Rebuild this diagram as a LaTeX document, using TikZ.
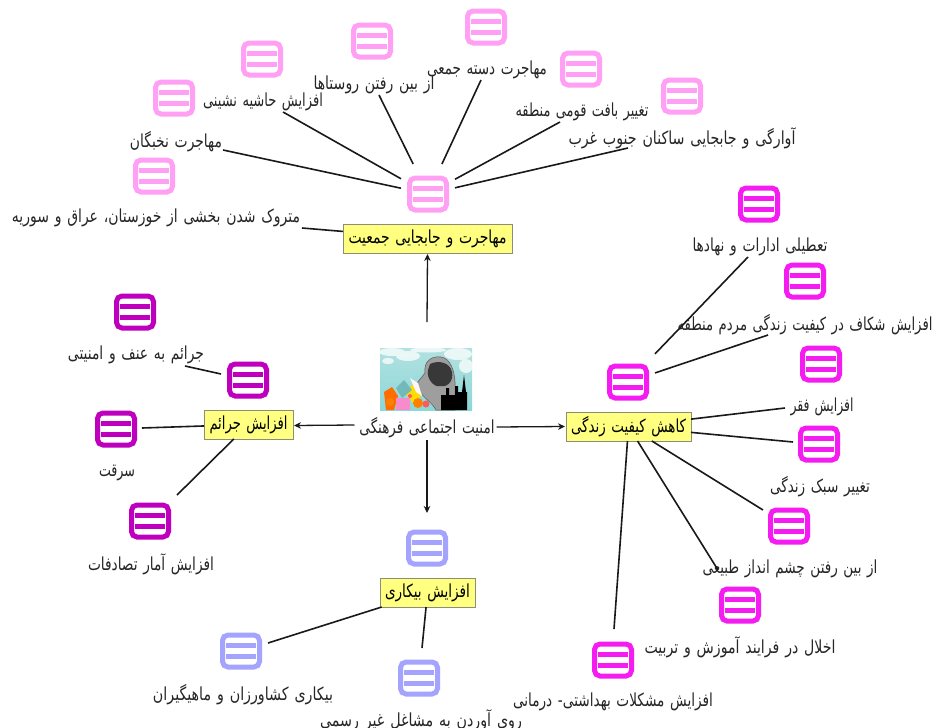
\documentclass[tikz,border=0pt]{standalone}
\usepackage{fontspec}
\TeXXeTstate=1
\newfontfamily\arabicfont[Script=Arabic,WordSpace=1.3]{DejaVu Sans}
\usetikzlibrary{arrows.meta,calc}
\definecolor{migr}{HTML}{FFA0F5}
\definecolor{life}{HTML}{F41CF0}
\definecolor{crime}{HTML}{BE00BE}
\definecolor{jobs}{HTML}{A4A4FF}
\definecolor{boxfill}{HTML}{FFFF80}
\definecolor{boxline}{HTML}{8C8C78}
\tikzset{
  lab/.style={inner sep=0pt,outer sep=0pt,text=black!85,font=\arabicfont\fontsize{18}{20}\selectfont},
  theme/.style={rectangle,draw=boxline,line width=1pt,fill=boxfill,inner sep=0pt,outer sep=0pt,text=black,font=\arabicfont\fontsize{18}{20}\selectfont},
  hit/.style={rectangle,draw=none,inner sep=0pt,outer sep=0pt,minimum width=54pt,minimum height=60pt},
  frame/.style={line width=5pt,rounded corners=5.5pt,fill=white},
  link/.style={line width=1.6pt,black!90},
  flow/.style={line width=1.3pt,black!90,-{Stealth[length=7pt,width=6.5pt]}}
}
\newcommand{\ic}[4]{%
  \node[hit] (#1) at (#3,#4) {};
  \draw[frame,draw=#2] ($(#1)+(-18.5,-16)$) rectangle ($(#1)+(18.5,16)$);
  \fill[#2] ($(#1)+(-15,-7.7)$) rectangle ($(#1)+(15,-2.7)$);
  \fill[#2] ($(#1)+(-15,3)$) rectangle ($(#1)+(15,8)$);
}
\newcommand{\lb}[5]{\node[lab] (#1) at (#2,#3) {\resizebox{#4pt}{\height}{#5}};}
\newcommand{\bx}[7]{\node[theme,minimum width=#4pt,minimum height=#5pt] (#1) at (#2,#3) {\resizebox{#6pt}{\height}{#7}};}
\begin{document}
\begin{tikzpicture}[x=1pt,y=-1pt]
\useasboundingbox (0,0) rectangle (937,728);
\clip (0,0) rectangle (937,728);
\fill[white] (0,0) rectangle (937,728);

% central picture
\shade[top color=cyan!22!teal!30!white,bottom color=cyan!30!teal!45!white] (380,348) rectangle (472,410);
\fill[white,opacity=.75] (392,352) ellipse (13 and 4) (408,356) ellipse (12 and 5) (388,361) ellipse (6 and 3) (428,350) ellipse (18 and 2.5) (458,354) ellipse (14 and 6) (466,366) ellipse (7 and 7);
\fill[black!38,draw=black!65,line width=.5pt] (436,410) .. controls (432,402) and (423,398) .. (419,390) -- (417,383) -- (425,373) .. controls (424,364) and (428,358) .. (436,357) .. controls (448,355) and (454,366) .. (455,382) -- (455,410) -- cycle;
\fill[black!78] (430,364) .. controls (438,360) and (450,362) .. (452,372) .. controls (454,382) and (446,388) .. (440,386) .. controls (434,388) and (426,378) .. (428,370) -- cycle;
\fill[black] (441,410) -- (441,395) -- (446,395) -- (446,388) -- (449,388) -- (449,395) -- (455,395) -- (455,386) -- (458,386) -- (458,392) -- (462,392) -- (464,375) -- (466,392) -- (467,392) -- (467,410) -- cycle;
\fill[orange!85!red] (384,392) -- (392,387) -- (398,396) -- (394,410) -- (386,410) -- cycle;
\fill[yellow!80!orange] (404,392) -- (414,384) -- (422,394) -- (414,404) -- cycle;
\fill[teal!55] (396,388) -- (404,380) -- (412,390) -- (402,398) -- cycle;
\fill[white!85!pink] (410,378) -- (418,383) -- (422,396) -- (416,392) -- cycle;
\fill[magenta!45] (396,398) rectangle (410,410);
\fill[orange] (390,402) circle (4) (418,403) circle (5);
\fill[red!65] (426,404) circle (3.5) (410,396) circle (2);

% centre
\lb{root}{427}{428}{135}{\beginR امنیت اجتماعی فرهنگی\endR}
\coordinate (rootTop) at (427,322);

% theme boxes
\bx{tM}{427.5}{238.5}{169}{29}{158}{\beginR مهاجرت و جابجایی جمعیت\endR}
\bx{tL}{628.5}{426.5}{125}{29}{115}{\beginR کاهش کیفیت زندگی\endR}
\bx{tC}{248.5}{424.5}{89}{29}{78}{\beginR افزایش جرائم\endR}
\bx{tJ}{427.5}{592.5}{95}{29}{85}{\beginR افزایش بیکاری\endR}

% icons
\ic{mh}{migr}{428}{194}
\ic{m1}{migr}{154}{176}
\ic{m2}{migr}{174}{98}
\ic{m3}{migr}{262}{59}
\ic{m4}{migr}{372}{41}
\ic{m5}{migr}{486}{27}
\ic{m6}{migr}{581}{69}
\ic{m7}{migr}{682}{96}
\ic{lh}{life}{628}{382}
\ic{l1}{life}{759}{204}
\ic{l2}{life}{805}{281}
\ic{l3}{life}{821}{364}
\ic{l4}{life}{819}{444}
\ic{l5}{life}{789}{526}
\ic{l6}{life}{740}{605}
\ic{l7}{life}{613}{660}
\ic{c1}{crime}{135}{312}
\ic{c2}{crime}{248}{380}
\ic{c3}{crime}{116}{429}
\ic{c4}{crime}{150}{521}
\ic{j1}{jobs}{427}{548}
\ic{j2}{jobs}{241}{651}
\ic{j3}{jobs}{419}{678}

% labels
\lb{a1}{156}{218}{288}{\beginR متروک شدن بخشی از خوزستان، عراق و سوریه\endR}
\lb{a2}{176}{142}{92}{\beginR مهاجرت نخبگان\endR}
\lb{a3}{263}{102}{120}{\beginR افزایش حاشیه نشینی\endR}
\lb{a4}{374}{85}{121}{\beginR از بین رفتن روستاها\endR}
\lb{a5}{487}{70}{120}{\beginR مهاجرت دسته جمعی\endR}
\lb{a6}{582}{112}{133}{\beginR تغییر بافت قومی منطقه\endR}
\lb{a7}{682}{138}{227}{\beginR آوارگی و جابجایی ساکنان جنوب غرب\endR}
\lb{b1}{760}{247}{135}{\beginR تعطیلی ادارات و نهادها\endR}
\lb{b2}{805}{325}{255}{\beginR افزایش شکاف در کیفیت زندگی مردم منطقه\endR}
\lb{b3}{822}{407}{63}{\beginR افزایش فقر\endR}
\lb{b4}{820}{487}{100}{\beginR تغییر سبک زندگی\endR}
\lb{b5}{790}{569}{175}{\beginR از بین رفتن چشم انداز طبیعی\endR}
\lb{b6}{740}{647}{191}{\beginR اخلال در فرایند آموزش و تربیت\endR}
\lb{b7}{613}{702}{200}{\beginR افزایش مشکلات بهداشتی- درمانی\endR}
\lb{d1}{136}{355}{136}{\beginR جرائم به عنف و امنیتی\endR}
\lb{d2}{117}{473}{36}{\beginR سرقت\endR}
\lb{d3}{151}{564}{126}{\beginR افزایش آمار تصادفات\endR}
\lb{e1}{243}{695}{180}{\beginR بیکاری کشاورزان و ماهیگیران\endR}
\lb{e2}{421}{720}{202}{\beginR روی آوردن به مشاغل غیر رسمی\endR}

% line ends
\coordinate (p1) at (302,228);
\coordinate (p2) at (223,150);
\coordinate (p3) at (283,112);
\coordinate (p4) at (379,95);
\coordinate (p5) at (481,80);
\coordinate (p6) at (560,122);
\coordinate (p7) at (628,148);
\coordinate (q1) at (748,257);
\coordinate (q2) at (768,335);
\coordinate (q3) at (785,408);
\coordinate (q4) at (793,442);
\coordinate (q5) at (763,510);
\coordinate (q6) at (718,570);
\coordinate (q7) at (614,629);
\coordinate (r1) at (185,366);
\coordinate (r2) at (142,428);
\coordinate (r3) at (177,495);
\coordinate (s1) at (268,643);
\coordinate (s2) at (422,648);

% connectors
\draw[link] (tM) -- (p1);
\foreach \e in {p2,p3,p4,p5,p6,p7} \draw[link] (mh) -- (\e);
\foreach \e in {q1,q2} \draw[link] (lh) -- (\e);
\foreach \e in {q3,q4,q5,q6,q7} \draw[link] (tL) -- (\e);
\draw[link] (c2) -- (r1);
\foreach \e in {r2,r3} \draw[link] (tC) -- (\e);
\foreach \e in {s1,s2} \draw[link] (tJ) -- (\e);

\draw[flow] (rootTop) -- ($(tM.south)+(0,1)$);
\draw[flow] ($(root.west)+(-5,-3)$) -- ($(tC.east)+(1,1)$);
\draw[flow] ($(root.east)+(2,-1)$) -- ($(tL.west)+(-1,0)$);
\draw[flow] ($(root.south)+(0,2)$) -- ($(j1.north)+(0,-5)$);
\end{tikzpicture}
\end{document}
